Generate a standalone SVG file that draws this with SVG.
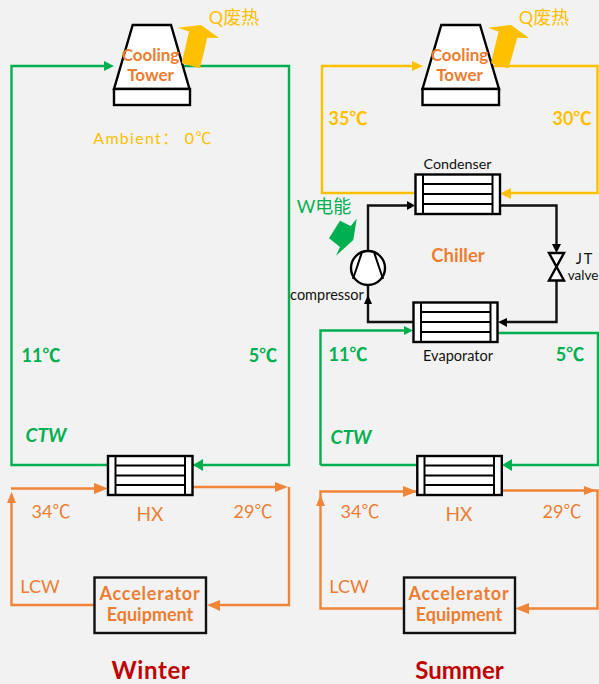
<svg xmlns="http://www.w3.org/2000/svg" width="599" height="684" viewBox="0 0 599 684">
<style>
text{font-family:"Lato","Noto Sans CJK SC",sans-serif;text-anchor:middle}
.b{font-weight:700}
.or{fill:#ed7d31}.go{fill:#ffc000}.gr{fill:#00b050}.bk{fill:#111}
.l{fill:none;stroke-width:2.4}
.lo{stroke:#f08437}.lg{stroke:#ffc000}.lgr{stroke:#00b050}.lb{stroke:#111}
.s{fill:#fff;stroke:#000;stroke-width:2.4}
.i{fill:none;stroke:#000;stroke-width:2}
.ah-o{fill:#f08437}.ah-g{fill:#ffc000}.ah-gr{fill:#00b050}.ah-b{fill:#000}
</style>
<rect width="599" height="684" fill="#f2f2f2"/>
<g id="connectors">
<path class="l lgr" d="M180 66H289V465H193"/>
<path class="l lgr" d="M108 465H11.500V66H105"/>
<path class="ah-gr" d="M114 66L104 61V71Z M193 465L203 459V471Z"/>
<path class="l lo" d="M192 487H280"/>
<path class="ah-o" d="M288 487L275 482V492Z"/>
<path class="l lo" d="M289 487V605H215"/>
<path class="ah-o" d="M207 605L220 600V611Z"/>
<path class="l lo" d="M94 605H11.500V495"/>
<path class="ah-o" d="M11.500 492L7 503H16Z"/>
<path class="l lo" d="M11 488.500H100"/>
<path class="ah-o" d="M108 488.500L94 483V494Z"/>

<path class="l lg" d="M490 66H597.500V193H508"/>
<path class="l lg" d="M415 193H322V66H415"/>
<path class="ah-g" d="M423 66L412 61V71Z M500 193.500L511 188V199Z"/>
<path class="l lb" d="M368 252V205.500H408"/>
<path class="ah-b" d="M415 205.500L407 201V210Z"/>
<path class="l lb" d="M500 205.500H556.500V246"/>
<path class="ah-b" d="M556.500 253L552 244H561Z"/>
<path class="l lb" d="M556.500 280V322H505"/>
<path class="ah-b" d="M498 322L507 318V327Z"/>
<path class="l lb" d="M413 322H368V285"/>
<path class="ah-b" d="M368 295L364 304H372Z"/>
<path class="l lgr" d="M320.500 465V330.500H406"/>
<path class="ah-gr" d="M413 330.500L404 326V335Z"/>
<path class="l lgr" d="M498 333H598V465H510"/>
<path class="ah-gr" d="M502 465L512 459V471Z"/>
<path class="l lgr" d="M417 465H320.500"/>
<path class="l lo" d="M417 491.500H320.500V608.500H404"/>
<path class="ah-o" d="M320.500 495L316 506H325Z"/>
<path class="ah-o" d="M417 491.500L403 486V497Z"/>
<path class="l lo" d="M501 490.500H597.500V608.500H523"/>
<path class="ah-o" d="M596 490.500L584 486V495Z"/>
<path class="ah-o" d="M515 608.500L529 603V614Z"/>
</g>

<g id="tower-winter">
<path class="s" d="M132.700 25H171L189.500 89H114Z"/>
<rect class="s" x="114" y="89" width="76" height="16"/>
<text class="or b" font-size="17" x="150.500" y="61">Cooling</text>
<text class="or b" font-size="17" x="150.500" y="81">Tower</text>
</g>
<path id="q-arrow-winter" class="ah-g" d="M177.700 27.700L201 25L219 38L207.300 37.700L200 68.300L181.700 63.300L189 31.500Z"/>
<text id="q-winter" class="go" font-size="18" x="234" y="24">Q废热</text>
<text id="ambient" class="go" font-size="16" x="153" y="144" letter-spacing="1.300">Ambient： 0℃</text>

<g id="tower-summer">
<path class="s" d="M441.300 25H480L499 89H422.500Z"/>
<rect class="s" x="422.500" y="89" width="76.500" height="16"/>
<text class="or b" font-size="17" x="459.500" y="61">Cooling</text>
<text class="or b" font-size="17" x="459.500" y="81">Tower</text>
</g>
<path id="q-arrow-summer" class="ah-g" d="M488 27.700L511 25L529 38L517.300 37.700L508.500 68.300L491 63.300L498.500 31.500Z"/>
<text id="q-summer" class="go" font-size="18" x="544" y="24">Q废热</text>

<g id="hx-winter">
<rect class="s" x="108" y="456" width="84.500" height="39"/>
<path class="i" d="M115.500 456V495M185 456V495M115.500 465.500H185M115.500 475.500H185M115.500 485H185"/>
<text class="or" font-size="19" x="150" y="521">HX</text>
</g>
<g id="hx-summer">
<rect class="s" x="417.300" y="456" width="84.500" height="39"/>
<path class="i" d="M424.500 456V495M494 456V495M424.500 465.500H494M424.500 475.500H494M424.500 485H494"/>
<text class="or" font-size="19" x="459" y="521">HX</text>
</g>
<g id="condenser">
<rect class="s" x="415.500" y="174.500" width="84.500" height="39.500"/>
<path class="i" d="M423 174.500V214M492.500 174.500V214M423 184H492.500M423 194H492.500M423 204H492.500"/>
<text class="bk" font-size="14.300" x="457.500" y="169">Condenser</text>
</g>
<g id="evaporator">
<rect class="s" x="413.500" y="302.500" width="84" height="39.500"/>
<path class="i" d="M421 302.500V342M490.500 302.500V342M421 312H490.500M421 322H490.500M421 332H490.500"/>
<text class="bk" font-size="14.500" x="458" y="361">Evaporator</text>
</g>
<g id="compressor">
<circle class="s" cx="368" cy="268" r="17"/>
<path class="i" d="M362 252L353 279M374 252L383 279"/>
<text class="bk" font-size="14.500" x="327" y="300">compressor</text>
</g>
<path id="w-arrow" class="ah-gr" d="M340 220.700L350.700 226L356.700 218.700L353.300 240L336 255.700L340 247L329 238.300Z"/>
<text id="w-label" class="gr" font-size="18" x="324" y="213">W电能</text>
<g id="jt-valve">
<path class="s" d="M549 253H564L549 280.500H564Z"/>
<text class="bk" font-size="14.500" x="585" y="264" letter-spacing="2">JT</text>
<text class="bk" font-size="13.500" x="583" y="280">valve</text>
</g>
<text id="chiller" class="or b" font-size="18.500" x="458" y="262">Chiller</text>

<g id="box-winter">
<rect fill="none" stroke="#111" stroke-width="2.400" x="94.500" y="577.500" width="111.500" height="55.500"/>
<text class="or b" font-size="18" x="150" y="600" letter-spacing="0.800">Accelerator</text>
<text class="or b" font-size="18" x="150" y="621">Equipment</text>
</g>
<g id="box-summer">
<rect fill="none" stroke="#111" stroke-width="2.400" x="404" y="577.500" width="111" height="55.500"/>
<text class="or b" font-size="18" x="459" y="600" letter-spacing="0.800">Accelerator</text>
<text class="or b" font-size="18" x="459" y="621">Equipment</text>
</g>

<g id="labels">
<text class="gr b" font-size="18" x="41" y="362">11℃</text>
<text class="gr b" font-size="18" x="263" y="362">5℃</text>
<text class="gr b" font-size="19" x="46" y="442" font-style="italic">CTW</text>
<text class="gr b" font-size="18" x="348" y="361">11℃</text>
<text class="gr b" font-size="18" x="570" y="361">5℃</text>
<text class="gr b" font-size="19" x="351" y="444" font-style="italic">CTW</text>
<text class="go b" font-size="18" x="348" y="125">35℃</text>
<text class="go b" font-size="18" x="572" y="125">30℃</text>
<text class="or" font-size="18" x="51" y="518">34℃</text>
<text class="or" font-size="18" x="253" y="518">29℃</text>
<text class="or" font-size="18" x="360" y="518">34℃</text>
<text class="or" font-size="18" x="562" y="518">29℃</text>
<text class="or" font-size="18" x="40" y="593">LCW</text>
<text class="or" font-size="18" x="349" y="593">LCW</text>
<text font-size="24" font-weight="700" fill="#c00000" x="151" y="679" letter-spacing="0.600">Winter</text>
<text font-size="24" font-weight="700" fill="#c00000" x="459.500" y="679">Summer</text>
</g>
</svg>
